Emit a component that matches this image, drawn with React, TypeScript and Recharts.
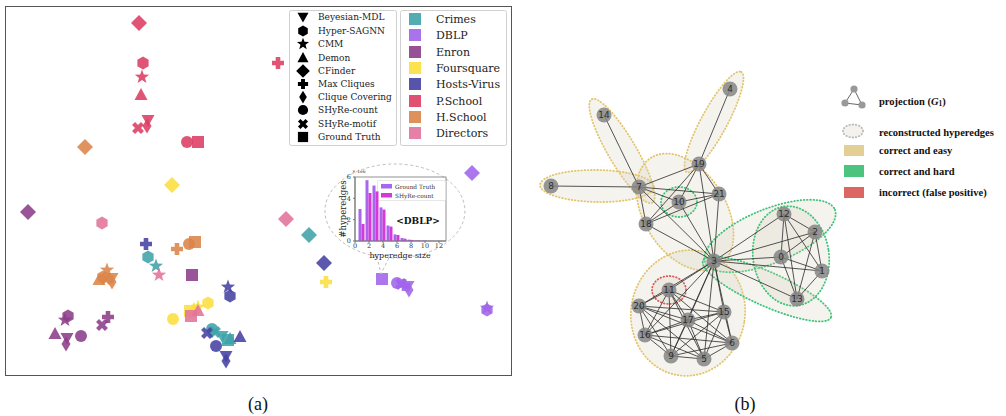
import React from 'react';
import { ScatterChart, Scatter, XAxis, YAxis, BarChart, Bar } from 'recharts';

type Method = 'bmdl' | 'sagnn' | 'cmm' | 'demon' | 'cfinder' | 'maxcl' | 'cc' | 'count' | 'motif' | 'gt';
type Pt = [Method, number, number];

// ---- (a) embedding of reconstructed hypergraphs ----
const METHODS: Method[] = ['bmdl', 'sagnn', 'cmm', 'demon', 'cfinder', 'maxcl', 'cc', 'count', 'motif', 'gt'];
const METHOD_LABELS = [
  'Beyesian-MDL', 'Hyper-SAGNN', 'CMM', 'Demon', 'CFinder',
  'Max Cliques', 'Clique Covering', 'SHyRe-count', 'SHyRe-motif', 'Ground Truth',
];
const DATASET_LABELS = ['Crimes', 'DBLP', 'Enron', 'Foursquare', 'Hosts-Virus', 'P.School', 'H.School', 'Directors'];

const CRIMES: Pt[] = [
  ['cfinder', 309, 235], ['sagnn', 148, 257], ['cmm', 156, 266], ['count', 212, 329],
  ['motif', 215, 332], ['bmdl', 222, 336], ['gt', 228, 340], ['demon', 230, 339],
];
const DBLP: Pt[] = [
  ['cfinder', 472, 173], ['gt', 382, 279], ['count', 397, 283], ['motif', 401, 284],
  ['maxcl', 404, 285], ['bmdl', 408, 286], ['cc', 409, 290], ['sagnn', 487, 310], ['cmm', 487, 308],
];
const ENRON: Pt[] = [
  ['cfinder', 28, 212], ['gt', 192, 275], ['sagnn', 68, 316], ['cmm', 65, 320], ['maxcl', 108, 317],
  ['motif', 102, 325], ['demon', 55, 334], ['count', 81, 336], ['bmdl', 67, 338], ['cc', 66, 344],
];
const FOURSQUARE: Pt[] = [
  ['cfinder', 172, 185], ['maxcl', 326, 282], ['count', 173, 319], ['sagnn', 208, 303],
  ['cmm', 198, 307], ['demon', 194, 309], ['gt', 190, 311],
];
const HOSTS_VIRUS: Pt[] = [
  ['maxcl', 146, 244], ['cfinder', 324, 263], ['cmm', 228, 287], ['sagnn', 230, 296], ['motif', 207, 333],
  ['demon', 240, 337], ['count', 216, 346], ['bmdl', 226, 356], ['cc', 226, 361],
];
const P_SCHOOL: Pt[] = [
  ['cfinder', 139, 23], ['sagnn', 143, 63], ['cmm', 142, 77], ['demon', 141, 95], ['bmdl', 148, 120],
  ['cc', 147, 126], ['motif', 138, 128], ['count', 187, 142], ['gt', 198, 142], ['maxcl', 278, 63],
];
const H_SCHOOL: Pt[] = [
  ['cfinder', 85, 147], ['maxcl', 177, 249], ['count', 189, 244], ['gt', 195, 242], ['cmm', 107, 270],
  ['sagnn', 103, 277], ['demon', 99, 280], ['bmdl', 112, 278], ['cc', 112, 282], ['motif', 106, 279],
];
const DIRECTORS: Pt[] = [
  ['sagnn', 102, 223], ['cfinder', 286, 219], ['cmm', 159, 275], ['demon', 198, 311], ['gt', 191, 316],
];
const DATASET_POINTS = [CRIMES, DBLP, ENRON, FOURSQUARE, HOSTS_VIRUS, P_SCHOOL, H_SCHOOL, DIRECTORS];
const DATASET_COLORS = ['#3fa3a8', '#a064ea', '#8c3d8a', '#fbdf3e', '#4541a3', '#dc3d62', '#db8549', '#e2739c'];

// inset: DBLP hyperedge size distribution (x 1e6)
const SIZES = [1, 2, 3, 4, 5, 6, 7, 8, 9, 10, 11, 12];
const GT_COUNTS = [3.0, 5.7, 5.2, 3.15, 1.45, 0.62, 0.28, 0.13, 0.07, 0.04, 0.02, 0.01];
const SHYRE_COUNTS = [1.6, 4.5, 4.65, 2.95, 1.35, 0.56, 0.22, 0.1, 0.05, 0.03, 0.01, 0.01];

// ---- (b) projected graph and reconstructed hyperedges ----
const NODES: [number, number, number][] = [
  [0, 781, 257], [1, 822, 271], [2, 815, 232], [3, 714, 261], [4, 730, 89], [5, 704, 359],
  [6, 732, 343], [7, 639, 187], [8, 551, 186], [9, 671, 356], [10, 679, 202], [11, 669, 290],
  [12, 784, 214], [13, 797, 299], [14, 604, 115], [15, 724, 312], [16, 645, 335], [17, 688, 320],
  [18, 646, 224], [19, 699, 164], [20, 639, 306], [21, 719, 194],
];
const MAXIMAL_CLIQUES = [
  [4, 19], [14, 7], [8, 7], [7, 19, 21, 10, 18, 3], [3, 11, 20, 17, 15, 16, 6, 9, 5],
  [3, 12, 2], [3, 0, 1, 13], [12, 2, 0, 1, 13],
];
type Outline = { x: number; y: number; rx: number; ry: number; a: number; kind: 'easy' | 'hard' | 'wrong' };
const HYPEREDGE_OUTLINES: Outline[] = [
  { x: 714, y: 122, rx: 57, ry: 13, a: -61.5, kind: 'easy' },
  { x: 622, y: 151, rx: 60, ry: 14, a: 59.5, kind: 'easy' },
  { x: 597, y: 186, rx: 57, ry: 16, a: 1, kind: 'easy' },
  { x: 685, y: 212, rx: 64, ry: 41, a: 58, kind: 'easy' },
  { x: 688, y: 313, rx: 57, ry: 63, a: 10, kind: 'easy' },
  { x: 770, y: 236, rx: 70, ry: 27, a: -22, kind: 'hard' },
  { x: 767, y: 289, rx: 70, ry: 17, a: 24, kind: 'hard' },
  { x: 791, y: 256, rx: 38, ry: 50, a: -8, kind: 'hard' },
  { x: 679, y: 202, rx: 18, ry: 15, a: 0, kind: 'hard' },
  { x: 669, y: 290, rx: 17, ry: 14, a: 0, kind: 'wrong' },
];
const OUTLINE_COLORS = { easy: '#e3c46c', hard: '#3ec47a', wrong: '#dc5a5a' };

const SERIF = '"DejaVu Serif", serif';
const TIMES = '"Liberation Serif", "Times New Roman", serif';

function Glyph({ m, x, y, fill, s = 1, opacity = 0.88 }: { m: Method; x: number; y: number; fill: string; s?: number; opacity?: number }) {
  const p = (pts: number[][]) => pts.map(([a, b]) => `${x + a * s},${y + b * s}`).join(' ');
  const common = { fill, fillOpacity: opacity };
  switch (m) {
    case 'bmdl':
      return <polygon points={p([[0, 6.5], [-6.5, -5], [6.5, -5]])} {...common} />;
    case 'demon':
      return <polygon points={p([[0, -7], [-6.5, 5], [6.5, 5]])} {...common} />;
    case 'sagnn': {
      const pts = [0, 1, 2, 3, 4, 5].map((k) => {
        const t = ((-90 + 60 * k) * Math.PI) / 180;
        return [6.5 * Math.cos(t), 6.5 * Math.sin(t)];
      });
      return <polygon points={p(pts)} {...common} />;
    }
    case 'cmm': {
      const pts = Array.from({ length: 10 }, (_, k) => {
        const r = k % 2 === 0 ? 7.5 : 3.1;
        const t = ((-90 + 36 * k) * Math.PI) / 180;
        return [r * Math.cos(t), r * Math.sin(t)];
      });
      return <polygon points={p(pts)} {...common} />;
    }
    case 'cfinder':
      return <polygon points={p([[0, -8], [8, 0], [0, 8], [-8, 0]])} {...common} />;
    case 'cc':
      return <polygon points={p([[0, -7.5], [4.5, 0], [0, 7.5], [-4.5, 0]])} {...common} />;
    case 'maxcl': {
      const a = 6, t = 2.3;
      return <polygon points={p([[-t, -a], [t, -a], [t, -t], [a, -t], [a, t], [t, t], [t, a], [-t, a], [-t, t], [-a, t], [-a, -t], [-t, -t]])} {...common} />;
    }
    case 'motif': {
      const a = 6.3, t = 2.1;
      const c = Math.SQRT1_2;
      const base = [[-t, -a], [t, -a], [t, -t], [a, -t], [a, t], [t, t], [t, a], [-t, a], [-t, t], [-a, t], [-a, -t], [-t, -t]];
      return <polygon points={p(base.map(([u, v]) => [c * (u - v), c * (u + v)]))} {...common} />;
    }
    case 'count':
      return <circle cx={x} cy={y} r={6 * s} {...common} />;
    case 'gt':
      return <rect x={x - 6 * s} y={y - 6 * s} width={12 * s} height={12 * s} {...common} />;
  }
  return null;
}

const histData = SIZES.map((size, i) => ({ size, gt: GT_COUNTS[i], shyre: SHYRE_COUNTS[i] }));

const nodeMap: Record<number, { x: number; y: number }> = {};
NODES.forEach(([id, x, y]) => { nodeMap[id] = { x, y }; });
const edgeSet = new Set<string>();
const EDGES: [number, number][] = [];
MAXIMAL_CLIQUES.forEach((c) => {
  for (let i = 0; i < c.length; i++)
    for (let j = i + 1; j < c.length; j++) {
      const a = Math.min(c[i], c[j]), b = Math.max(c[i], c[j]);
      const k = `${a}-${b}`;
      if (!edgeSet.has(k)) { edgeSet.add(k); EDGES.push([a, b]); }
    }
});
const nodeData = NODES.map(([id, x, y]) => ({ id, x, y }));

function EmbeddingPanel() {
  return (
    <div style={{ position: 'absolute', left: 5, top: 6, width: 507, height: 370 }}>
      <div style={{ position: 'absolute', inset: 0, border: '1.3px solid #555', boxSizing: 'border-box' }} />
      <ScatterChart width={507} height={370} margin={{ top: 0, right: 0, bottom: 0, left: 0 }}>
        <XAxis type="number" dataKey="x" domain={[5, 512]} hide />
        <YAxis type="number" dataKey="y" domain={[6, 376]} reversed hide />
        {DATASET_POINTS.map((pts, di) => (
          <Scatter
            key={DATASET_LABELS[di]}
            data={pts.map(([m, x, y]) => ({ m, x, y }))}
            isAnimationActive={false}
            shape={(p: any) => <Glyph m={p.payload.m} x={p.cx} y={p.cy} fill={DATASET_COLORS[di]} />}
          />
        ))}
      </ScatterChart>
    </div>
  );
}

function Inset() {
  return (
    <div style={{ position: 'absolute', left: 330, top: 168 }}>
      <BarChart width={120} height={90} data={histData} margin={{ top: 9, right: 4, left: 13, bottom: 5 }} barGap={0}>
        <XAxis
          type="number" dataKey="size" domain={[0, 13]} ticks={[0, 2, 4, 6, 8, 10, 12]} height={12}
          tick={{ fontSize: 6.5, fill: '#333', fontFamily: SERIF, dy: -2 }} tickSize={2} stroke="#777"
          allowDataOverflow
        />
        <YAxis
          type="number" domain={[0, 6]} ticks={[0, 1, 2, 3, 4, 5, 6]} width={12}
          tick={{ fontSize: 6.5, fill: '#333', fontFamily: SERIF }} tickSize={2} stroke="#777"
        />
        <Bar dataKey="gt" fill="#a865ee" barSize={3} isAnimationActive={false} />
        <Bar dataKey="shyre" fill="#d63ad6" barSize={3} isAnimationActive={false} />
      </BarChart>
    </div>
  );
}

function NetworkPanel() {
  return (
    <div style={{ position: 'absolute', left: 530, top: 60 }}>
      <ScatterChart width={310} height={320} margin={{ top: 0, right: 0, bottom: 0, left: 0 }}>
        <XAxis type="number" dataKey="x" domain={[530, 840]} hide />
        <YAxis type="number" dataKey="y" domain={[60, 380]} reversed hide />
        <Scatter
          data={HYPEREDGE_OUTLINES}
          isAnimationActive={false}
          shape={(p: any) => {
            const o = p.payload as Outline;
            return (
              <ellipse
                cx={p.cx} cy={p.cy} rx={o.rx} ry={o.ry}
                transform={`rotate(${o.a} ${p.cx} ${p.cy})`}
                fill="rgb(214,208,186)" fillOpacity={0.25}
                stroke={OUTLINE_COLORS[o.kind]} strokeWidth={1.8}
                strokeDasharray="0.6 2.6" strokeLinecap="round"
              />
            );
          }}
        />
        {EDGES.map(([a, b]) => (
          <Scatter
            key={`${a}-${b}`}
            data={[nodeMap[a], nodeMap[b]]}
            line={{ stroke: '#2b2b2b', strokeWidth: 1, strokeOpacity: 0.8 }}
            isAnimationActive={false}
            shape={() => <g />}
          />
        ))}
        <Scatter
          data={nodeData}
          isAnimationActive={false}
          shape={(p: any) => (
            <g>
              <circle cx={p.cx} cy={p.cy} r={7.5} fill="#858585" fillOpacity={0.85} />
              <text x={p.cx} y={p.cy} textAnchor="middle" dominantBaseline="central" fontSize={9}
                fontFamily='"DejaVu Sans", sans-serif' fill="#2e2e2e">{p.payload.id}</text>
            </g>
          )}
        />
      </ScatterChart>
    </div>
  );
}

const METHOD_ROWS = [17, 31, 44, 58, 71, 84, 97, 110, 124, 137];
const DATASET_ROWS = [19, 35, 52, 68, 84, 101, 117, 133];

function Decorations() {
  return (
    <svg width={1006} height={416} style={{ position: 'absolute', left: 0, top: 0 }}>
      {/* method legend */}
      <rect x={289.5} y={10.5} width={107} height={135} rx={2} fill="#fff" stroke="#d0d0d0" />
      {METHODS.map((m, i) => (
        <g key={m}>
          <Glyph m={m} x={303} y={METHOD_ROWS[i]} fill="#000" s={0.85} opacity={1} />
          <text x={318} y={METHOD_ROWS[i]} dominantBaseline="central" fontSize={9} fontFamily={SERIF} fill="#222">
            {METHOD_LABELS[i]}
          </text>
        </g>
      ))}
      {/* dataset legend */}
      <rect x={400.5} y={10.5} width={106} height={135} rx={2} fill="#fff" stroke="#d0d0d0" />
      {DATASET_LABELS.map((d, i) => (
        <g key={d}>
          <rect x={409} y={DATASET_ROWS[i] - 6} width={12} height={12} fill={DATASET_COLORS[i]} fillOpacity={0.9} />
          <text x={436} y={DATASET_ROWS[i]} dominantBaseline="central" fontSize={11} fontFamily={SERIF} fill="#222">{d}</text>
        </g>
      ))}

      {/* inset callout */}
      <path d="M 377 256.4 L 381 274 L 389 257.8 A 70 47 0 1 0 377 256.4 Z" fill="#fff" stroke="#bdbdbd" strokeWidth={1} strokeDasharray="3 2.5" />
      <rect x={355} y={177} width={91} height={64} fill="none" stroke="#777" strokeWidth={0.8} />
      <text x={352} y={173} fontSize={4.5} fontFamily={SERIF} fill="#333">× 1e6</text>
      <text x={343} y={209} transform="rotate(-90 343 209)" textAnchor="middle" dominantBaseline="central" fontSize={8.5} fontFamily={SERIF} fill="#222">#hyperedges</text>
      <text x={400} y={255.5} textAnchor="middle" dominantBaseline="central" fontSize={8} fontFamily={SERIF} fill="#222">hyperedge size</text>
      <rect x={377.5} y={180.5} width={68} height={20} fill="#fff" stroke="#ddd" strokeWidth={0.7} rx={1} />
      <rect x={381} y={184} width={11} height={4.5} fill="#a865ee" />
      <rect x={381} y={193} width={11} height={4.5} fill="#d63ad6" />
      <text x={395} y={186.5} dominantBaseline="central" fontSize={5.8} fontFamily={SERIF} fill="#333">Ground Truth</text>
      <text x={395} y={195.5} dominantBaseline="central" fontSize={5.8} fontFamily={SERIF} fill="#333">SHyRe-count</text>
      <text x={418} y={221} textAnchor="middle" dominantBaseline="central" fontSize={9} fontWeight="bold" fontFamily={SERIF} fill="#111">{'<DBLP>'}</text>

      {/* network legend */}
      <g stroke="#666" strokeWidth={1}>
        <line x1={845} y1={103} x2={854} y2={89} />
        <line x1={854} y1={89} x2={862} y2={105} />
        <line x1={845} y1={103} x2={862} y2={105} />
      </g>
      <circle cx={845} cy={103} r={3.6} fill="#999" />
      <circle cx={854} cy={89} r={3.6} fill="#999" />
      <circle cx={862} cy={105} r={3.6} fill="#999" />
      <text x={879} y={101} dominantBaseline="central" fontSize={10.5} fontWeight="bold" fontFamily={TIMES} fill="#111">
        projection (<tspan fontStyle="italic">G</tspan><tspan fontSize={7.5} dy={2}>1</tspan><tspan dy={-2}>)</tspan>
      </text>
      <ellipse cx={853} cy={131} rx={10} ry={6.5} fill="#f3f2ec" stroke="#bbb" strokeWidth={1.8} strokeDasharray="0.6 2.6" strokeLinecap="round" />
      <text x={879} y={132} dominantBaseline="central" fontSize={10.5} fontWeight="bold" fontFamily={TIMES} fill="#111">reconstructed hyperedges</text>
      <rect x={844} y={145} width={20} height={11} fill="#e2cf94" />
      <text x={879} y={150.5} dominantBaseline="central" fontSize={10.5} fontWeight="bold" fontFamily={TIMES} fill="#111">correct and easy</text>
      <rect x={844} y={165} width={20} height={12} fill="#4cc47f" />
      <text x={879} y={171} dominantBaseline="central" fontSize={10.5} fontWeight="bold" fontFamily={TIMES} fill="#111">correct and hard</text>
      <rect x={844} y={187} width={20} height={11} fill="#dc6662" />
      <text x={879} y={192.5} dominantBaseline="central" fontSize={10.5} fontWeight="bold" fontFamily={TIMES} fill="#111">incorrect (false positive)</text>

      {/* panel captions */}
      <text x={258} y={410} textAnchor="middle" fontSize={18} fontFamily={TIMES} fill="#111">(a)</text>
      <text x={745} y={410} textAnchor="middle" fontSize={18} fontFamily={TIMES} fill="#111">(b)</text>
    </svg>
  );
}

export default function App() {
  return (
    <div style={{ position: 'absolute', left: 0, top: 0, width: 1006, height: 416, background: '#fff', overflow: 'hidden' }}>
      <EmbeddingPanel />
      <Decorations />
      <Inset />
      <NetworkPanel />
    </div>
  );
}
